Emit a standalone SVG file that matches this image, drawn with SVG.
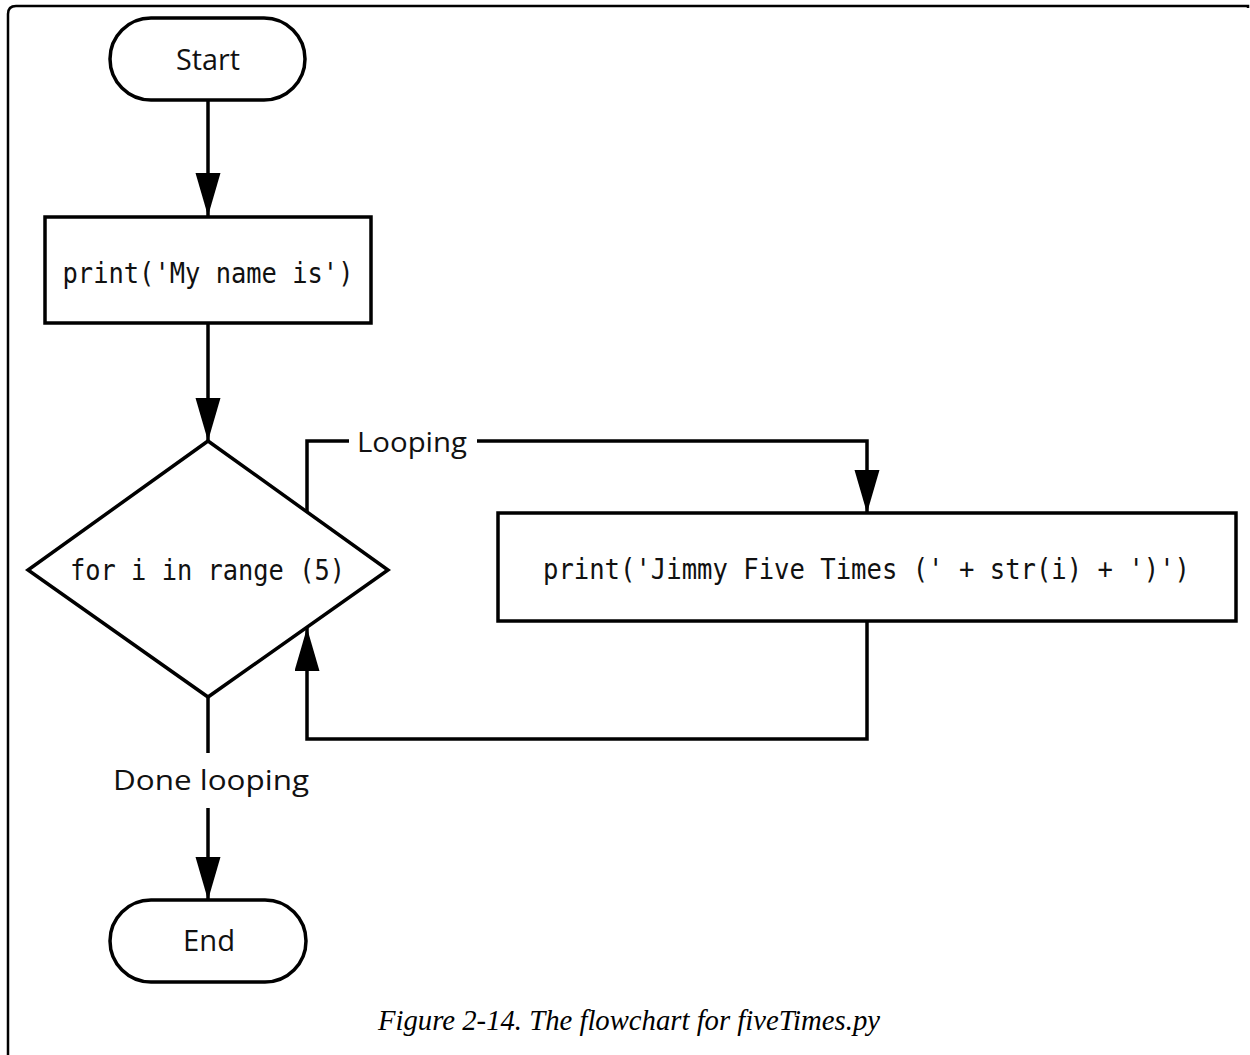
<svg xmlns="http://www.w3.org/2000/svg" width="1250" height="1055" viewBox="0 0 1250 1055">
<style>
.shape{fill:#fff;stroke:#000;stroke-width:3.5}
.line{fill:none;stroke:#000;stroke-width:3.5}
.code{font-family:"DejaVu Sans Mono","Liberation Mono",monospace;font-size:28px;fill:#111;text-anchor:middle}
.lbl{font-family:"Open Sans","Noto Sans","DejaVu Sans",sans-serif;fill:#111;text-anchor:middle}
.cap{font-family:"Liberation Serif",serif;font-style:italic;font-size:29px;fill:#000;text-anchor:middle}
</style>
<defs>
<marker id="arr" markerUnits="userSpaceOnUse" markerWidth="44" markerHeight="26" refX="43" refY="12.5" orient="auto">
<path d="M0,0 L43,12.5 L0,25 z" fill="#000"/>
</marker>
</defs>
<rect width="1250" height="1055" fill="#fff"/>
<path d="M8,1055 V14 Q8,6 16,6 H1248 v2" fill="none" stroke="#000" stroke-width="2.5"/>
<g id="connectors">
<line class="line" x1="208" y1="100" x2="208" y2="216" marker-end="url(#arr)"/>
<line class="line" x1="208" y1="323" x2="208" y2="441" marker-end="url(#arr)"/>
<path class="line" d="M307,512 V441 H349"/>
<path class="line" d="M477,441 H867 V513" marker-end="url(#arr)"/>
<text class="lbl" x="412" y="452" font-size="27" textLength="110" lengthAdjust="spacingAndGlyphs">Looping</text>
<path class="line" d="M867,621 V739 H307 V628" marker-end="url(#arr)"/>
<line class="line" x1="208" y1="697" x2="208" y2="753"/>
<text class="lbl" x="211" y="790" font-size="27" textLength="196" lengthAdjust="spacingAndGlyphs">Done looping</text>
<line class="line" x1="208" y1="808" x2="208" y2="900" marker-end="url(#arr)"/>
</g>
<g id="start">
<rect class="shape" x="110" y="18" width="195" height="82" rx="41" ry="41"/>
<text class="lbl" x="208" y="70" font-size="30" textLength="64" lengthAdjust="spacingAndGlyphs">Start</text>
</g>
<g id="print-name">
<rect class="shape" x="45" y="217" width="326" height="106"/>
<text class="code" x="208" y="283" textLength="291" lengthAdjust="spacingAndGlyphs">print('My name is')</text>
</g>
<g id="for-loop">
<polygon class="shape" points="208,441 388,570 208,697 28,570"/>
<text class="code" x="207.5" y="580" textLength="275" lengthAdjust="spacingAndGlyphs">for i in range (5)</text>
</g>
<g id="print-jimmy">
<rect class="shape" x="498" y="513" width="738" height="108"/>
<text class="code" x="866.5" y="579" textLength="647" lengthAdjust="spacingAndGlyphs">print('Jimmy Five Times (' + str(i) + ')')</text>
</g>
<g id="end">
<rect class="shape" x="110" y="900" width="196" height="82" rx="41" ry="41"/>
<text class="lbl" x="209" y="951" font-size="30" textLength="52" lengthAdjust="spacingAndGlyphs">End</text>
</g>
<text class="cap" x="629" y="1030" textLength="502" lengthAdjust="spacingAndGlyphs">Figure 2-14. The flowchart for fiveTimes.py</text>
</svg>
